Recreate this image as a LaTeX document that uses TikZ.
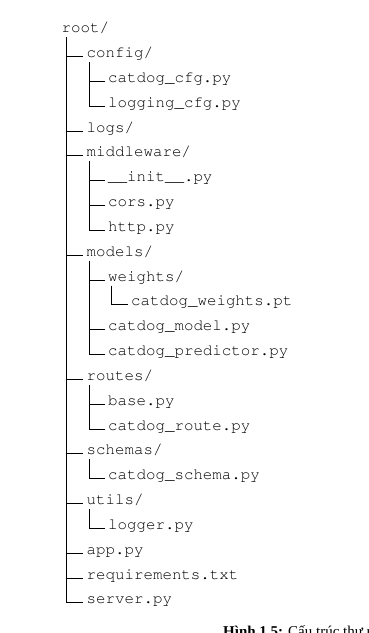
\documentclass[tikz,border=0pt]{standalone}
\usepackage{fontspec}
\newfontfamily\capfont{Liberation Serif}
% Courier-style typewriter face for the listing
\newcommand{\treefont}{\fontencoding{T1}\fontfamily{pcr}\selectfont}
\begin{document}
\begin{tikzpicture}[x=1pt,y=1pt,
  entry/.style={anchor=base west,inner sep=0pt,font=\treefont\fontsize{15.8}{18}\selectfont,text=black},
  branch/.style={draw=black,line width=1pt}]
\useasboundingbox (0,0) rectangle (369,-633);
\clip (0,0) rectangle (369,-633);

% one row every 24.83 units; columns for each depth
\newcommand{\entryat}[4]{\node[entry] (#1) at (#2,{-(32.8+24.83*#3)}) {#4};}

\entryat{root}{61.5}{0}{root/}
\entryat{config}{86.5}{1}{config/}
\entryat{catcfg}{108}{2}{catdog\_cfg.py}
\entryat{logcfg}{108}{3}{logging\_cfg.py}
\entryat{logs}{86.5}{4}{logs/}
\entryat{middleware}{86.5}{5}{middleware/}
\entryat{init}{108}{6}{\_\_init\_\_.py}
\entryat{cors}{108}{7}{cors.py}
\entryat{http}{108}{8}{http.py}
\entryat{models}{86.5}{9}{models/}
\entryat{weights}{108}{10}{weights/}
\entryat{wpt}{131}{11}{catdog\_weights.pt}
\entryat{cmodel}{108}{12}{catdog\_model.py}
\entryat{cpred}{108}{13}{catdog\_predictor.py}
\entryat{routes}{86.5}{14}{routes/}
\entryat{base}{108}{15}{base.py}
\entryat{croute}{108}{16}{catdog\_route.py}
\entryat{schemas}{86.5}{17}{schemas/}
\entryat{cschema}{108}{18}{catdog\_schema.py}
\entryat{utils}{86.5}{19}{utils/}
\entryat{logger}{108}{20}{logger.py}
\entryat{app}{86.5}{21}{app.py}
\entryat{req}{86.5}{22}{requirements.txt}
\entryat{server}{86.5}{23}{server.py}

% connector from a folder down its left rail to a child entry
\newcommand{\branchto}[3]{%
  \draw[branch] ([shift={(#3,-4.5)}]#1.base west) |- ([shift={(-3.5,1)}]#2.base west);}

\foreach \c in {config,logs,middleware,models,routes,schemas,utils,app,req,server}
  {\branchto{root}{\c}{4.5}}
\foreach \c in {catcfg,logcfg}{\branchto{config}{\c}{2.5}}
\foreach \c in {init,cors,http}{\branchto{middleware}{\c}{2.5}}
\foreach \c in {weights,cmodel,cpred}{\branchto{models}{\c}{2.5}}
\foreach \c in {wpt}{\branchto{weights}{\c}{3}}
\foreach \c in {base,croute}{\branchto{routes}{\c}{2.5}}
\foreach \c in {cschema}{\branchto{schemas}{\c}{2.5}}
\foreach \c in {logger}{\branchto{utils}{\c}{2.5}}

% caption
\node[anchor=base west,inner sep=0pt,font=\capfont\fontsize{15}{18}\selectfont] (caption)
  at (223,-636) {\textbf{Hình 1.5:} Cấu trúc thư mục};
\end{tikzpicture}
\end{document}
